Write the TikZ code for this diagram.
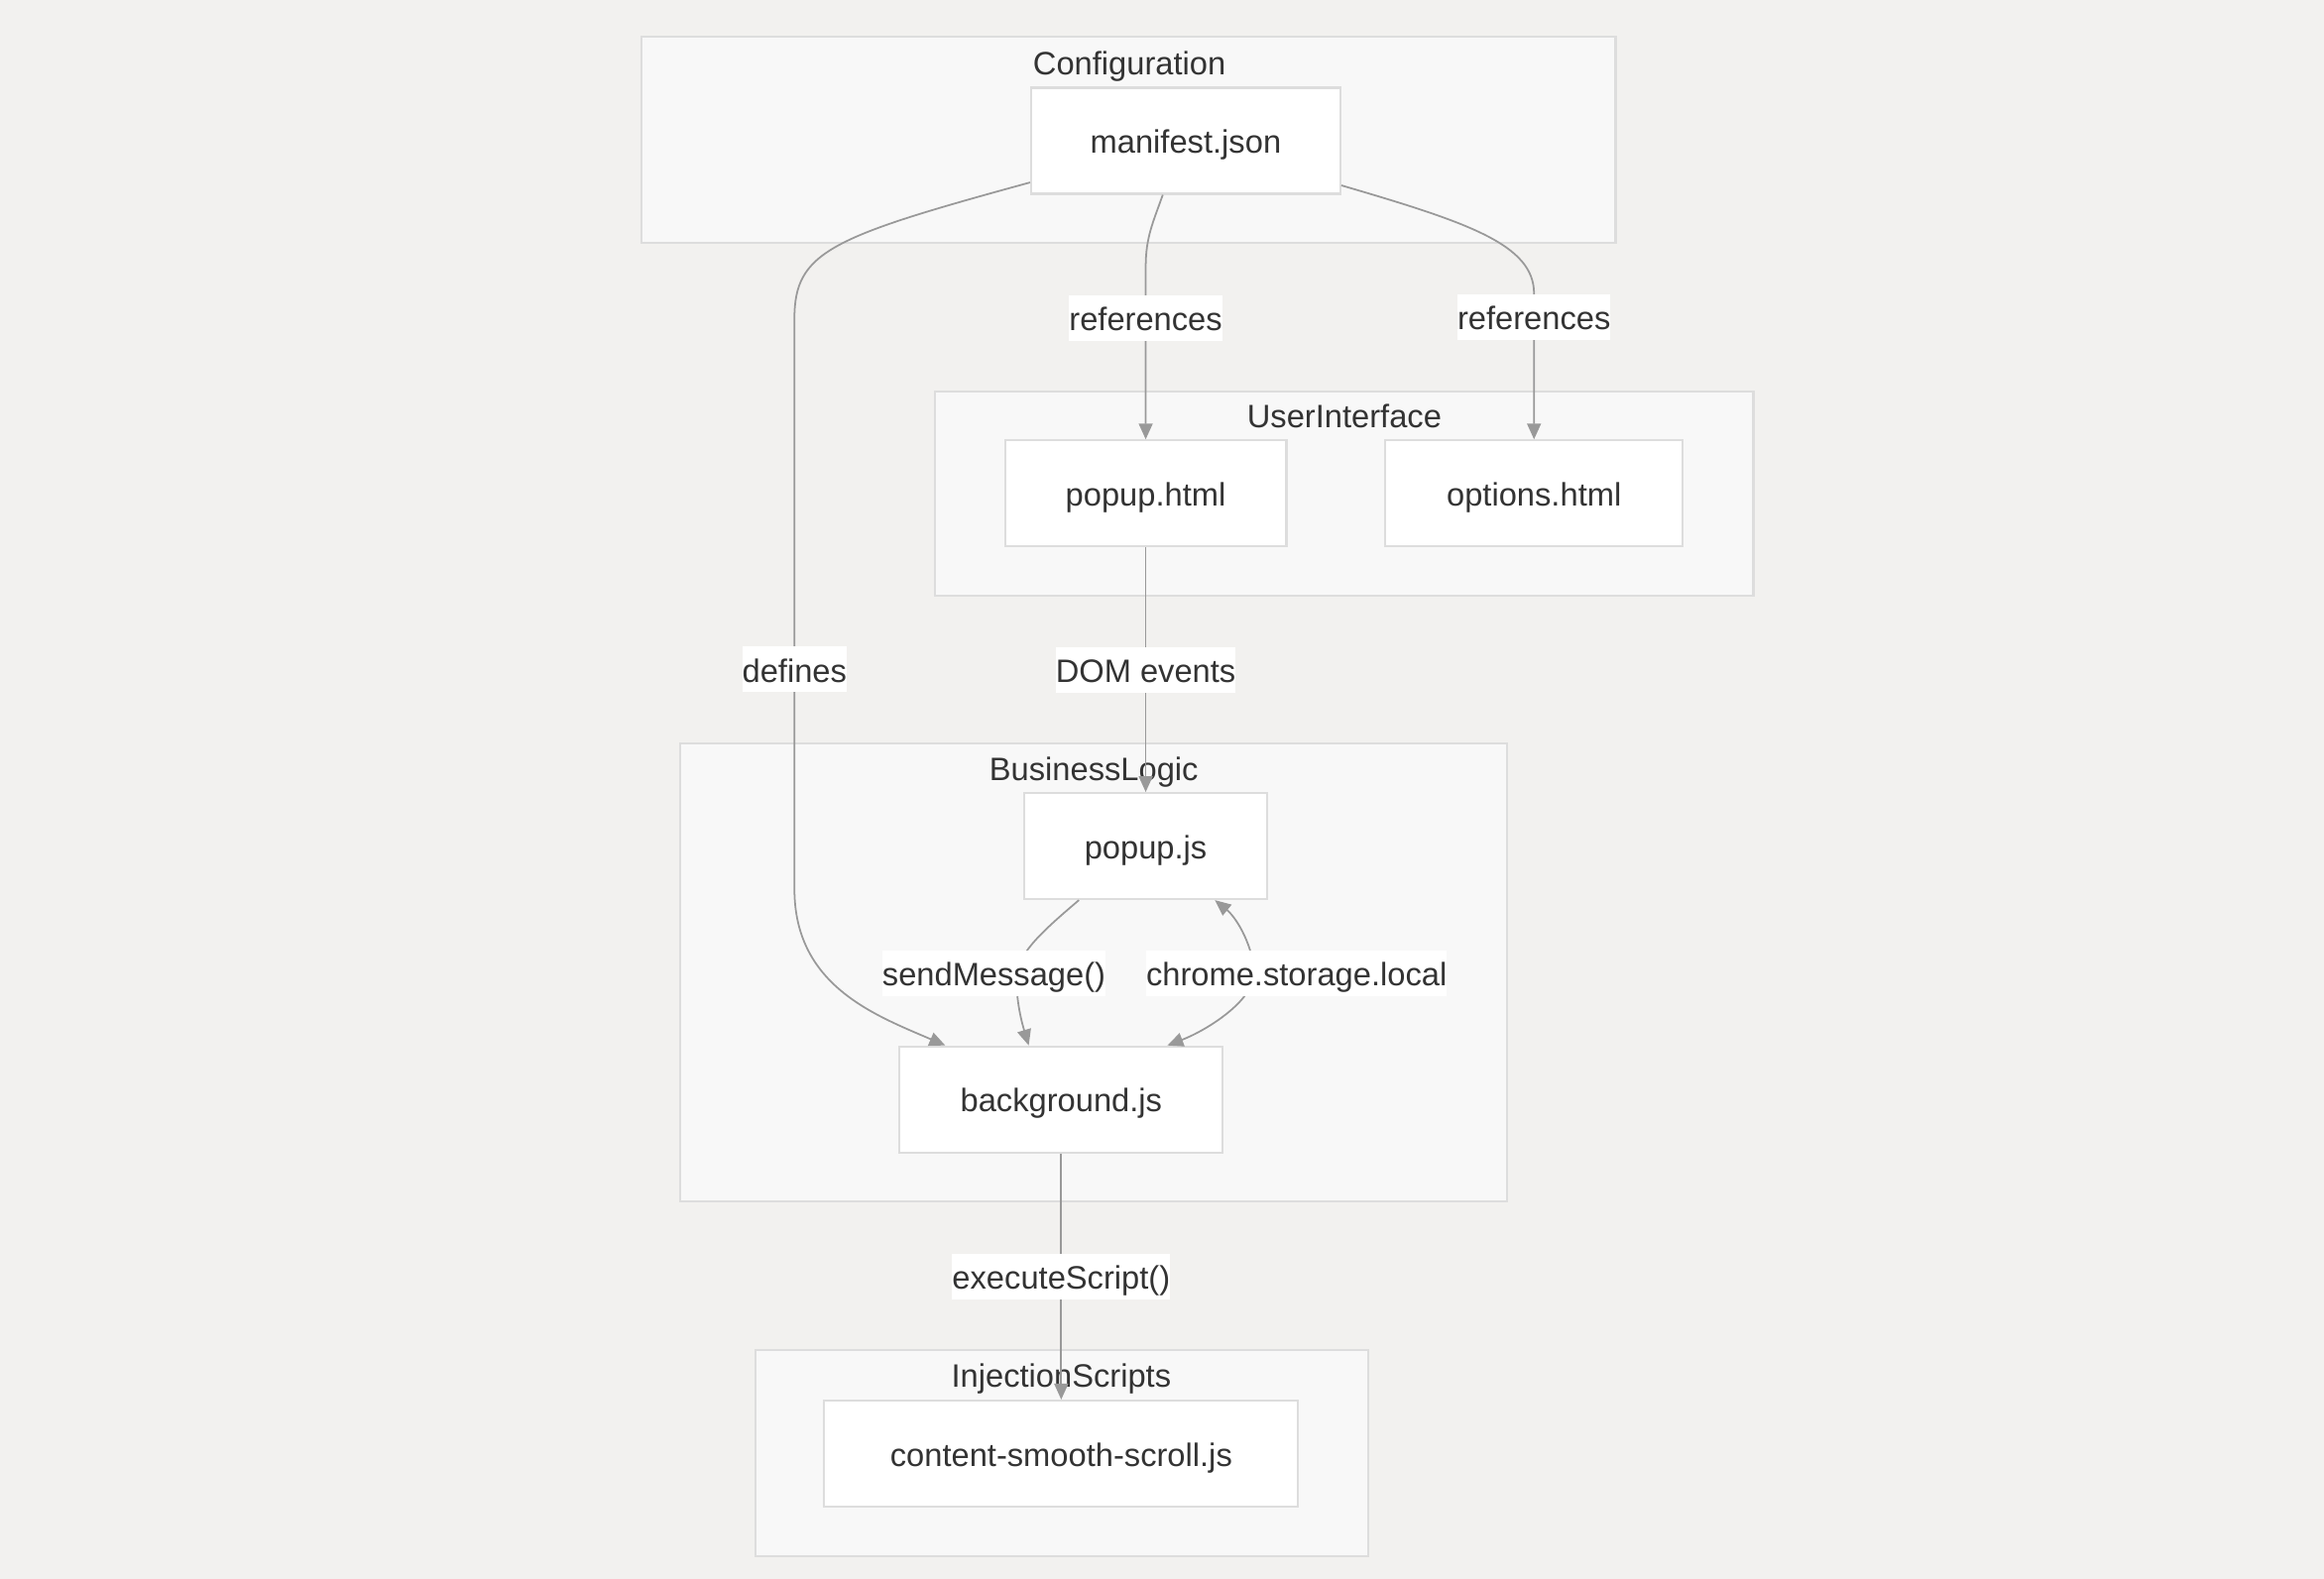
\documentclass[tikz,border=0pt]{standalone}
\usepackage{fontspec}
\setmainfont{Liberation Sans}
\usetikzlibrary{arrows.meta,positioning}
\definecolor{bgcol}{HTML}{F2F1EF}
\definecolor{clusterfill}{HTML}{F8F8F8}
\definecolor{clusterline}{HTML}{DDDDDD}
\definecolor{edgecol}{HTML}{999999}
\definecolor{txtcol}{HTML}{333333}

\begin{document}
\begin{tikzpicture}[
    x=0.01495cm, y=-0.01495cm,
    font=\fontsize{9.3}{11}\selectfont, text=txtcol,
    every node/.append style={text height=0.72em, text depth=0pt},
    cluster/.style={
        draw=clusterline, fill=clusterfill, line width=0.6pt
    },
    clustertitle/.style={
        inner sep=0pt, anchor=center
    },
    file/.style={
        rectangle, draw=clusterline, fill=white, line width=0.6pt,
        minimum height=1.07cm, inner sep=0pt
    },
    lbl/.style={
        fill=white, inner xsep=0pt, inner ysep=0pt, minimum height=0.46cm
    },
    arrow/.style={draw=edgecol, line width=0.5pt, -{Triangle[length=0.16cm, width=0.14cm]}},
    biarrow/.style={draw=edgecol, line width=0.5pt, {Triangle[length=0.16cm, width=0.14cm]}-{Triangle[length=0.16cm, width=0.14cm]}}
]

% Sfondo
\useasboundingbox (0,0) rectangle (1568,1065);
\fill[bgcol] (-5,-5) rectangle (1575,1072);

% Gruppi
\draw[cluster] (433,25) rectangle (1090,164);
\node[clustertitle] (configtitle) at (762,42) {Configuration};
\draw[cluster] (631,264) rectangle (1183,402);
\node[clustertitle] (uititle) at (907,280) {UserInterface};
\draw[cluster] (459,502) rectangle (1017,811);
\node[clustertitle] (logictitle) at (738,518) {BusinessLogic};
\draw[cluster] (510,911) rectangle (923,1050);
\node[clustertitle] (injecttitle) at (716,928) {InjectionScripts};

% File
\node[file, minimum width=3.12cm] (manifest) at (800,95) {manifest.json};
\node[file, minimum width=2.84cm] (popuphtml) at (773,333) {popup.html};
\node[file, minimum width=3.00cm] (optionshtml) at (1035,333) {options.html};
\node[file, minimum width=2.45cm] (popupjs) at (773,571) {popup.js};
\node[file, minimum width=3.26cm] (background) at (716,742) {background.js};
\node[file, minimum width=4.78cm] (content) at (716,981) {content-smooth-scroll.js};

% Collegamenti da manifest
\draw[arrow] (manifest.247) .. controls (778,150) and (773,160) .. (773,180)
    -- node[lbl, pos=0.3] {references} (popuphtml.north);
\draw[arrow] (manifest.344) .. controls (990,150) and (1035,165) .. (1035,198)
    -- node[lbl, pos=0.16] {references} (optionshtml.north);
\draw[arrow] (manifest.195) .. controls (560,160) and (536,170) .. (536,215)
    -- node[lbl, pos=0.615] {defines} (536,600)
    .. controls (536,665) and (590,685) .. (background.155);

% Interfaccia -> logica
\draw[arrow] (popuphtml) -- node[lbl] {DOM events} (popupjs);

% Messaggi e storage
\draw[arrow] (popupjs.219) .. controls (705,627) and (688,642) .. (686,657)
    node[lbl, xshift=-0.23cm] {sendMessage()}
    .. controls (685,675) and (690,692) .. (background.121);
\draw[biarrow] (popupjs.322) .. controls (835,620) and (846,640) .. (846,657)
    node[lbl, xshift=0.43cm] {chrome.storage.local}
    .. controls (846,675) and (815,695) .. (background.27);

% Iniezione
\draw[arrow] (background) -- node[lbl] {executeScript()} (content);

\end{tikzpicture}
\end{document}
